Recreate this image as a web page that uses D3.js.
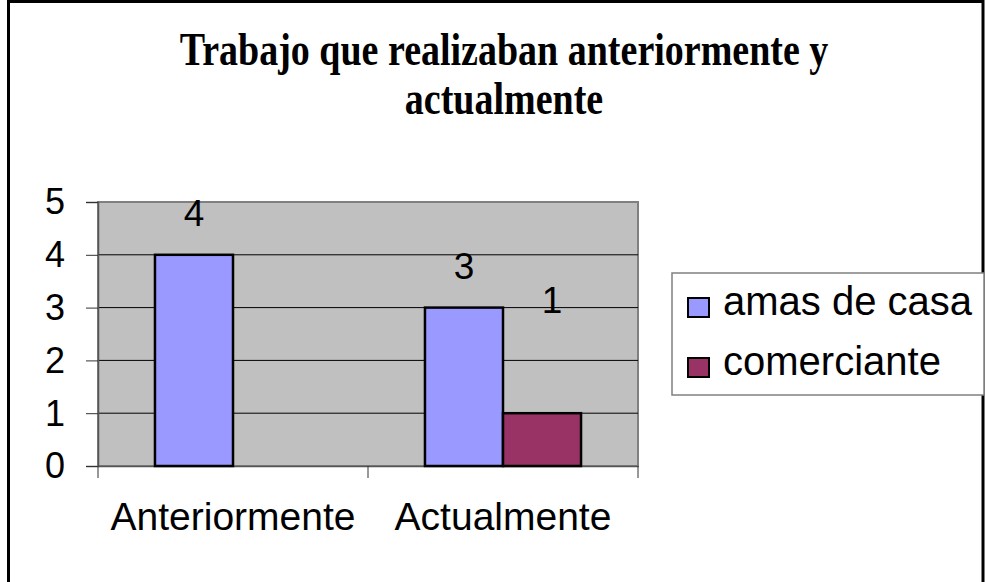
<!DOCTYPE html>
<html>
<head>
<meta charset="utf-8">
<script src="https://cdn.jsdelivr.net/npm/d3@7"></script>
<style>
  html, body { margin: 0; padding: 0; background: #fff; }
  svg { display: block; }
</style>
</head>
<body>
<div id="chart"></div>
<script>
// chart data
var categories = ["Anteriormente", "Actualmente"];
var seriesNames = ["amas de casa", "comerciante"];
var amasDeCasa = [4, 3];
var comerciante = [0, 1];
var yTicks = [0, 1, 2, 3, 4, 5];
var titleLines = ["Trabajo que realizaban anteriormente y", "actualmente"];

var colors = ["#9999FF", "#993366"];
var values = [amasDeCasa, comerciante];

var width = 986, height = 582;
var plot = { left: 98, right: 638, top: 202, bottom: 466 };

var svg = d3.select("#chart").append("svg")
    .attr("width", width)
    .attr("height", height);

// outer frame (bottom edge runs off the picture)
svg.append("rect")
    .attr("x", 8.5).attr("y", 1.5)
    .attr("width", 974.5).attr("height", 620)
    .attr("fill", "#fff")
    .attr("stroke", "#000")
    .attr("stroke-width", 3);

// title - the original font is drawn taller than it is wide
var titleScale = 1.2;
var title = svg.append("text")
    .attr("text-anchor", "middle")
    .attr("font-family", "'Liberation Serif', 'Times New Roman', serif")
    .attr("font-weight", "bold")
    .attr("font-size", 38)
    .attr("fill", "#000")
    .attr("transform", "translate(504,0) scale(1," + titleScale + ")");
title.selectAll("tspan")
    .data(titleLines)
    .enter().append("tspan")
    .attr("x", 0)
    .attr("y", function (d, i) { return (65 + i * 49) / titleScale; })
    .text(function (d) { return d; });

var x0 = d3.scaleBand()
    .domain(categories)
    .range([plot.left, plot.right])
    .padding(0);

var x1 = d3.scaleBand()
    .domain(seriesNames)
    .range([0, x0.bandwidth()])
    .paddingInner(0)
    .paddingOuter(0.73);

var y = d3.scaleLinear()
    .domain([0, 5])
    .range([plot.bottom, plot.top]);

// plot area
svg.append("rect")
    .attr("x", plot.left).attr("y", plot.top)
    .attr("width", plot.right - plot.left)
    .attr("height", plot.bottom - plot.top)
    .attr("fill", "#C0C0C0")
    .attr("stroke", "#808080")
    .attr("stroke-width", 2);

// gridlines
svg.append("g")
    .selectAll("line")
    .data(yTicks.filter(function (d) { return d > 0 && d < 5; }))
    .enter().append("line")
    .attr("x1", plot.left).attr("x2", plot.right)
    .attr("y1", function (d) { return y(d); })
    .attr("y2", function (d) { return y(d); })
    .attr("stroke", "#000")
    .attr("stroke-width", 1);

// y axis
var yAxis = svg.append("g")
    .attr("transform", "translate(" + plot.left + ",0)")
    .call(d3.axisLeft(y).tickValues(yTicks).tickFormat(d3.format("d")).tickSize(12).tickPadding(21));
yAxis.select(".domain").attr("stroke", "#555").attr("stroke-width", 1.5);
yAxis.selectAll(".tick line").attr("stroke", "#333").attr("stroke-width", 1);
yAxis.selectAll(".tick text")
    .attr("font-family", "'Liberation Sans', Arial, sans-serif")
    .attr("font-size", 36)
    .attr("fill", "#000")
    .attr("dy", "0.33em");

// x axis
var xAxis = svg.append("g")
    .attr("transform", "translate(0," + plot.bottom + ")")
    .call(d3.axisBottom(x0).tickSize(0).tickPadding(36));
xAxis.select(".domain").attr("stroke", "#555").attr("stroke-width", 1.5);
xAxis.selectAll(".tick text")
    .attr("font-family", "'Liberation Sans', Arial, sans-serif")
    .attr("font-size", 39)
    .attr("fill", "#000")
    .attr("dy", "0.71em");
// category separator ticks
var sepTicks = categories.map(function (c) { return x0(c); }).concat([plot.right]);
svg.append("g")
    .selectAll("line")
    .data(sepTicks)
    .enter().append("line")
    .attr("x1", function (d) { return d; })
    .attr("x2", function (d) { return d; })
    .attr("y1", plot.bottom)
    .attr("y2", plot.bottom + 12)
    .attr("stroke", "#333")
    .attr("stroke-width", 1);

// bars
var flat = [];
seriesNames.forEach(function (s, si) {
    categories.forEach(function (c, ci) {
        flat.push({ series: s, si: si, cat: c, value: values[si][ci] });
    });
});

svg.append("g")
    .selectAll("rect")
    .data(flat.filter(function (d) { return d.value > 0; }))
    .enter().append("rect")
    .attr("x", function (d) { return x0(d.cat) + x1(d.series); })
    .attr("y", function (d) { return y(d.value); })
    .attr("width", x1.bandwidth())
    .attr("height", function (d) { return y(0) - y(d.value); })
    .attr("fill", function (d) { return colors[d.si]; })
    .attr("stroke", "#000")
    .attr("stroke-width", 2.5);

// data labels (the comerciante label sits higher in the original)
function labelLift(d) { return d.si === 1 ? 100 : 29; }
function labelShift(d) { return d.si === 1 ? 10 : 0; }

svg.append("g")
    .selectAll("text")
    .data(flat.filter(function (d) { return d.value > 0; }))
    .enter().append("text")
    .attr("x", function (d) { return x0(d.cat) + x1(d.series) + x1.bandwidth() / 2 + labelShift(d); })
    .attr("y", function (d) { return y(d.value) - labelLift(d); })
    .attr("text-anchor", "middle")
    .attr("font-family", "'Liberation Sans', Arial, sans-serif")
    .attr("font-size", 37)
    .attr("fill", "#000")
    .text(function (d) { return d.value; });

// legend
var legend = svg.append("g");
legend.append("rect")
    .attr("x", 672).attr("y", 273)
    .attr("width", 312).attr("height", 122)
    .attr("fill", "#fff")
    .attr("stroke", "#808080")
    .attr("stroke-width", 1.5);

var items = legend.selectAll("g.item")
    .data(seriesNames)
    .enter().append("g")
    .attr("class", "item")
    .attr("transform", function (d, i) { return "translate(0," + (i * 60) + ")"; });

items.append("rect")
    .attr("x", 688).attr("y", 298)
    .attr("width", 21).attr("height", 19)
    .attr("fill", function (d, i) { return colors[i]; })
    .attr("stroke", "#000")
    .attr("stroke-width", 2);

items.append("text")
    .attr("x", 723).attr("y", 315)
    .attr("font-family", "'Liberation Sans', Arial, sans-serif")
    .attr("font-size", 40)
    .attr("fill", "#000")
    .text(function (d) { return d; });
</script>
</body>
</html>
